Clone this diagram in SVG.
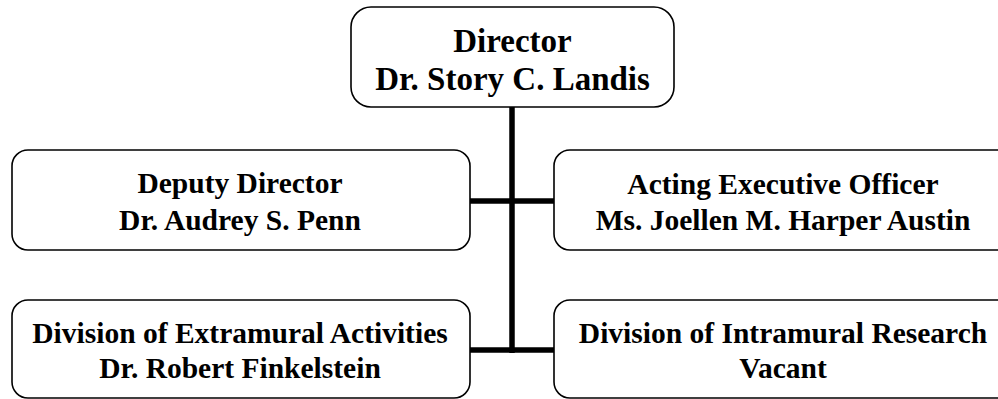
<svg xmlns="http://www.w3.org/2000/svg" width="998" height="399" viewBox="0 0 998 399">
<style>
.box{fill:#fff;stroke:#000;stroke-width:1.6}
.t{font-family:"Liberation Serif","Times New Roman",serif;font-weight:bold;fill:#000;text-anchor:middle}
.big{font-size:33px}
.sm{font-size:29.5px}
.c{stroke:#000;stroke-width:5.5;fill:none}
</style>
<rect width="998" height="399" fill="#fff"/>
<g id="connectors">
<line class="c" x1="512" y1="107" x2="512" y2="353"/>
<line class="c" x1="470" y1="201" x2="554" y2="201"/>
<line class="c" x1="470" y1="350" x2="554" y2="350"/>
</g>
<g id="director">
<rect class="box" x="351" y="7" width="323" height="100" rx="20"/>
<text class="t big" x="512.5" y="52">Director</text>
<text class="t big" x="512.5" y="90">Dr. Story C. Landis</text>
</g>
<g id="deputy">
<rect class="box" x="12" y="150" width="458" height="100" rx="16"/>
<text class="t sm" x="240" y="193">Deputy Director</text>
<text class="t sm" x="240" y="230">Dr. Audrey S. Penn</text>
</g>
<g id="executive">
<rect class="box" x="554" y="150" width="460" height="100" rx="16"/>
<text class="t sm" x="783" y="194">Acting Executive Officer</text>
<text class="t sm" x="783" y="230">Ms. Joellen M. Harper Austin</text>
</g>
<g id="extramural">
<rect class="box" x="12" y="300" width="458" height="98" rx="16"/>
<text class="t sm" x="240" y="343">Division of Extramural Activities</text>
<text class="t sm" x="240" y="378">Dr. Robert Finkelstein</text>
</g>
<g id="intramural">
<rect class="box" x="554" y="300" width="460" height="98" rx="16"/>
<text class="t sm" x="783" y="343">Division of Intramural Research</text>
<text class="t sm" x="783" y="378">Vacant</text>
</g>
</svg>
